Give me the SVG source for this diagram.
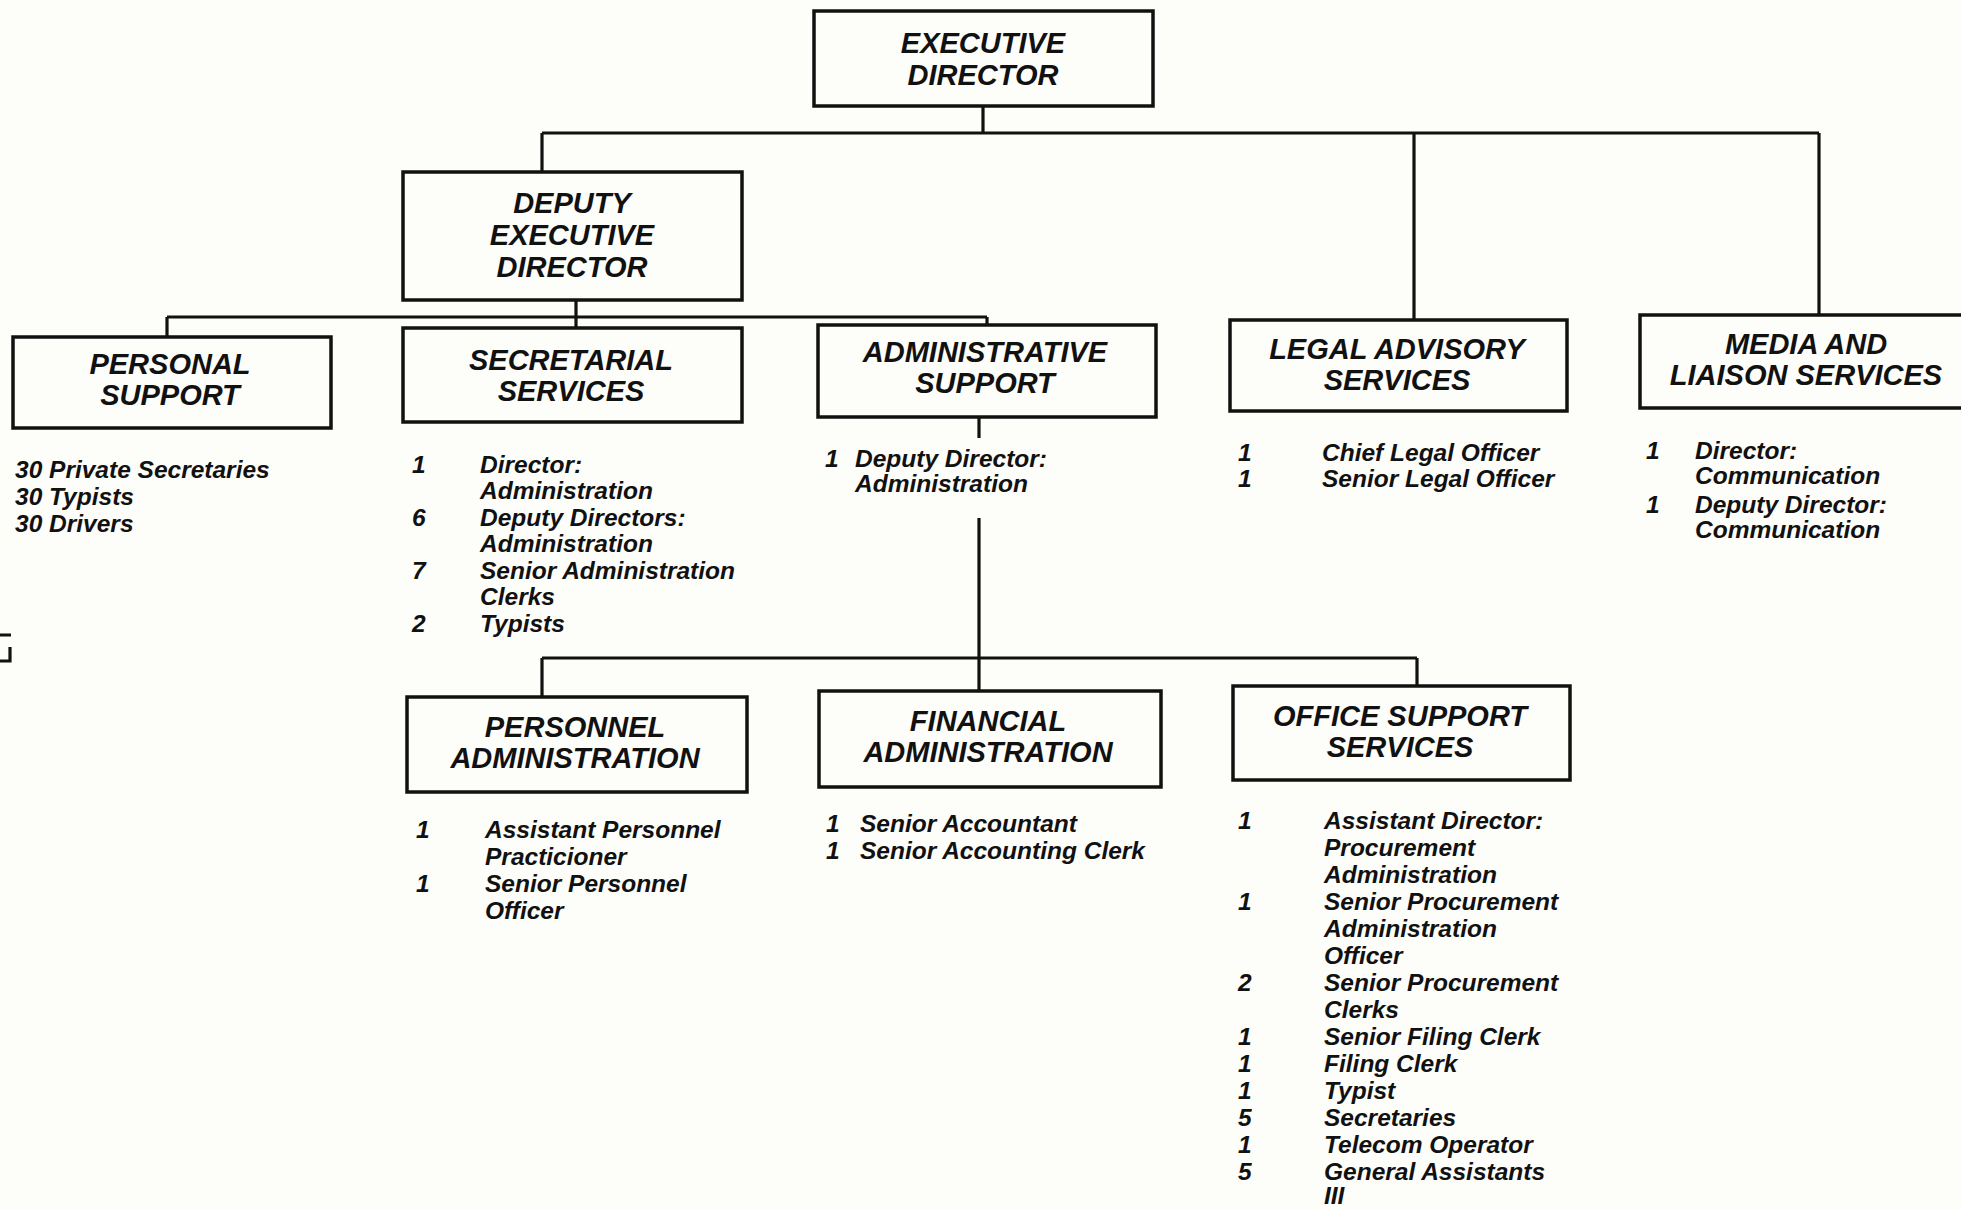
<svg xmlns="http://www.w3.org/2000/svg" width="1961" height="1210" viewBox="0 0 1961 1210">
<style>
.box{fill:none;stroke:#111;stroke-width:3.5}
.con{fill:none;stroke:#111;stroke-width:3.2}
.lbl{font-family:"Liberation Sans",Arial,sans-serif;font-weight:bold;font-style:italic;font-size:29px;fill:#111;text-anchor:middle}
.sub{font-family:"Liberation Sans",Arial,sans-serif;font-weight:bold;font-style:italic;font-size:24.5px;fill:#111}
</style>
<rect x="0" y="0" width="1961" height="1210" fill="#fdfdf9"/>
<g id="connectors">
<path class="con" d="M983 105 V133 M542 133 H1819 M542 133 V172 M1414 133 V320 M1819 133 V315"/>
<path class="con" d="M576 300 V328 M167 317 H987 M167 317 V337 M987 317 V325"/>
<path class="con" d="M979 417 V438 M979 518 V691 M542 658 H1417 M542 658 V697 M1417 658 V686"/>
<path class="con" d="M0 635 H11 M0 661 H10 V647"/>
</g>
<g id="executive-director">
<rect class="box" x="814" y="11" width="339" height="95"/>
<text class="lbl" x="983" y="53">EXECUTIVE</text>
<text class="lbl" x="983" y="85">DIRECTOR</text>
</g>
<g id="deputy-executive-director">
<rect class="box" x="403" y="172" width="339" height="128"/>
<text class="lbl" x="572" y="213">DEPUTY</text>
<text class="lbl" x="572" y="245">EXECUTIVE</text>
<text class="lbl" x="572" y="277">DIRECTOR</text>
</g>
<g id="personal-support">
<rect class="box" x="13" y="337" width="318" height="91"/>
<text class="lbl" x="170" y="374">PERSONAL</text>
<text class="lbl" x="170" y="405">SUPPORT</text>
<text class="sub" x="15" y="478">30 Private Secretaries</text>
<text class="sub" x="15" y="505">30 Typists</text>
<text class="sub" x="15" y="532">30 Drivers</text>
</g>
<g id="secretarial-services">
<rect class="box" x="403" y="328" width="339" height="94"/>
<text class="lbl" x="571" y="370">SECRETARIAL</text>
<text class="lbl" x="571" y="401">SERVICES</text>
<text class="sub" x="412" y="473">1</text><text class="sub" x="480" y="473">Director:</text>
<text class="sub" x="480" y="499">Administration</text>
<text class="sub" x="412" y="526">6</text><text class="sub" x="480" y="526">Deputy Directors:</text>
<text class="sub" x="480" y="552">Administration</text>
<text class="sub" x="412" y="579">7</text><text class="sub" x="480" y="579">Senior Administration</text>
<text class="sub" x="480" y="605">Clerks</text>
<text class="sub" x="412" y="632">2</text><text class="sub" x="480" y="632">Typists</text>
</g>
<g id="administrative-support">
<rect class="box" x="818" y="325" width="338" height="92"/>
<text class="lbl" x="985" y="362">ADMINISTRATIVE</text>
<text class="lbl" x="985" y="393">SUPPORT</text>
<text class="sub" x="825" y="467">1</text><text class="sub" x="855" y="467">Deputy Director:</text>
<text class="sub" x="855" y="492">Administration</text>
</g>
<g id="legal-advisory-services">
<rect class="box" x="1230" y="320" width="337" height="91"/>
<text class="lbl" x="1397" y="359">LEGAL ADVISORY</text>
<text class="lbl" x="1397" y="390">SERVICES</text>
<text class="sub" x="1238" y="461">1</text><text class="sub" x="1322" y="461">Chief Legal Officer</text>
<text class="sub" x="1238" y="487">1</text><text class="sub" x="1322" y="487">Senior Legal Officer</text>
</g>
<g id="media-and-liaison-services">
<path class="box" d="M1965 315 H1640 V408 H1965"/>
<text class="lbl" x="1806" y="354">MEDIA AND</text>
<text class="lbl" x="1806" y="385">LIAISON SERVICES</text>
<text class="sub" x="1646" y="459">1</text><text class="sub" x="1695" y="459">Director:</text>
<text class="sub" x="1695" y="484">Communication</text>
<text class="sub" x="1646" y="513">1</text><text class="sub" x="1695" y="513">Deputy Director:</text>
<text class="sub" x="1695" y="538">Communication</text>
</g>
<g id="personnel-administration">
<rect class="box" x="407" y="697" width="340" height="95"/>
<text class="lbl" x="575" y="737">PERSONNEL</text>
<text class="lbl" x="575" y="768">ADMINISTRATION</text>
<text class="sub" x="416" y="838">1</text><text class="sub" x="485" y="838">Assistant Personnel</text>
<text class="sub" x="485" y="865">Practicioner</text>
<text class="sub" x="416" y="892">1</text><text class="sub" x="485" y="892">Senior Personnel</text>
<text class="sub" x="485" y="919">Officer</text>
</g>
<g id="financial-administration">
<rect class="box" x="819" y="691" width="342" height="96"/>
<text class="lbl" x="988" y="731">FINANCIAL</text>
<text class="lbl" x="988" y="762">ADMINISTRATION</text>
<text class="sub" x="826" y="832">1</text><text class="sub" x="860" y="832">Senior Accountant</text>
<text class="sub" x="826" y="859">1</text><text class="sub" x="860" y="859">Senior Accounting Clerk</text>
</g>
<g id="office-support-services">
<rect class="box" x="1233" y="686" width="337" height="94"/>
<text class="lbl" x="1400" y="726">OFFICE SUPPORT</text>
<text class="lbl" x="1400" y="757">SERVICES</text>
<text class="sub" x="1238" y="829">1</text><text class="sub" x="1324" y="829">Assistant Director:</text>
<text class="sub" x="1324" y="856">Procurement</text>
<text class="sub" x="1324" y="883">Administration</text>
<text class="sub" x="1238" y="910">1</text><text class="sub" x="1324" y="910">Senior Procurement</text>
<text class="sub" x="1324" y="937">Administration</text>
<text class="sub" x="1324" y="964">Officer</text>
<text class="sub" x="1238" y="991">2</text><text class="sub" x="1324" y="991">Senior Procurement</text>
<text class="sub" x="1324" y="1018">Clerks</text>
<text class="sub" x="1238" y="1045">1</text><text class="sub" x="1324" y="1045">Senior Filing Clerk</text>
<text class="sub" x="1238" y="1072">1</text><text class="sub" x="1324" y="1072">Filing Clerk</text>
<text class="sub" x="1238" y="1099">1</text><text class="sub" x="1324" y="1099">Typist</text>
<text class="sub" x="1238" y="1126">5</text><text class="sub" x="1324" y="1126">Secretaries</text>
<text class="sub" x="1238" y="1153">1</text><text class="sub" x="1324" y="1153">Telecom Operator</text>
<text class="sub" x="1238" y="1180">5</text><text class="sub" x="1324" y="1180">General Assistants</text>
<text class="sub" x="1324" y="1204">III</text>
</g>
</svg>
